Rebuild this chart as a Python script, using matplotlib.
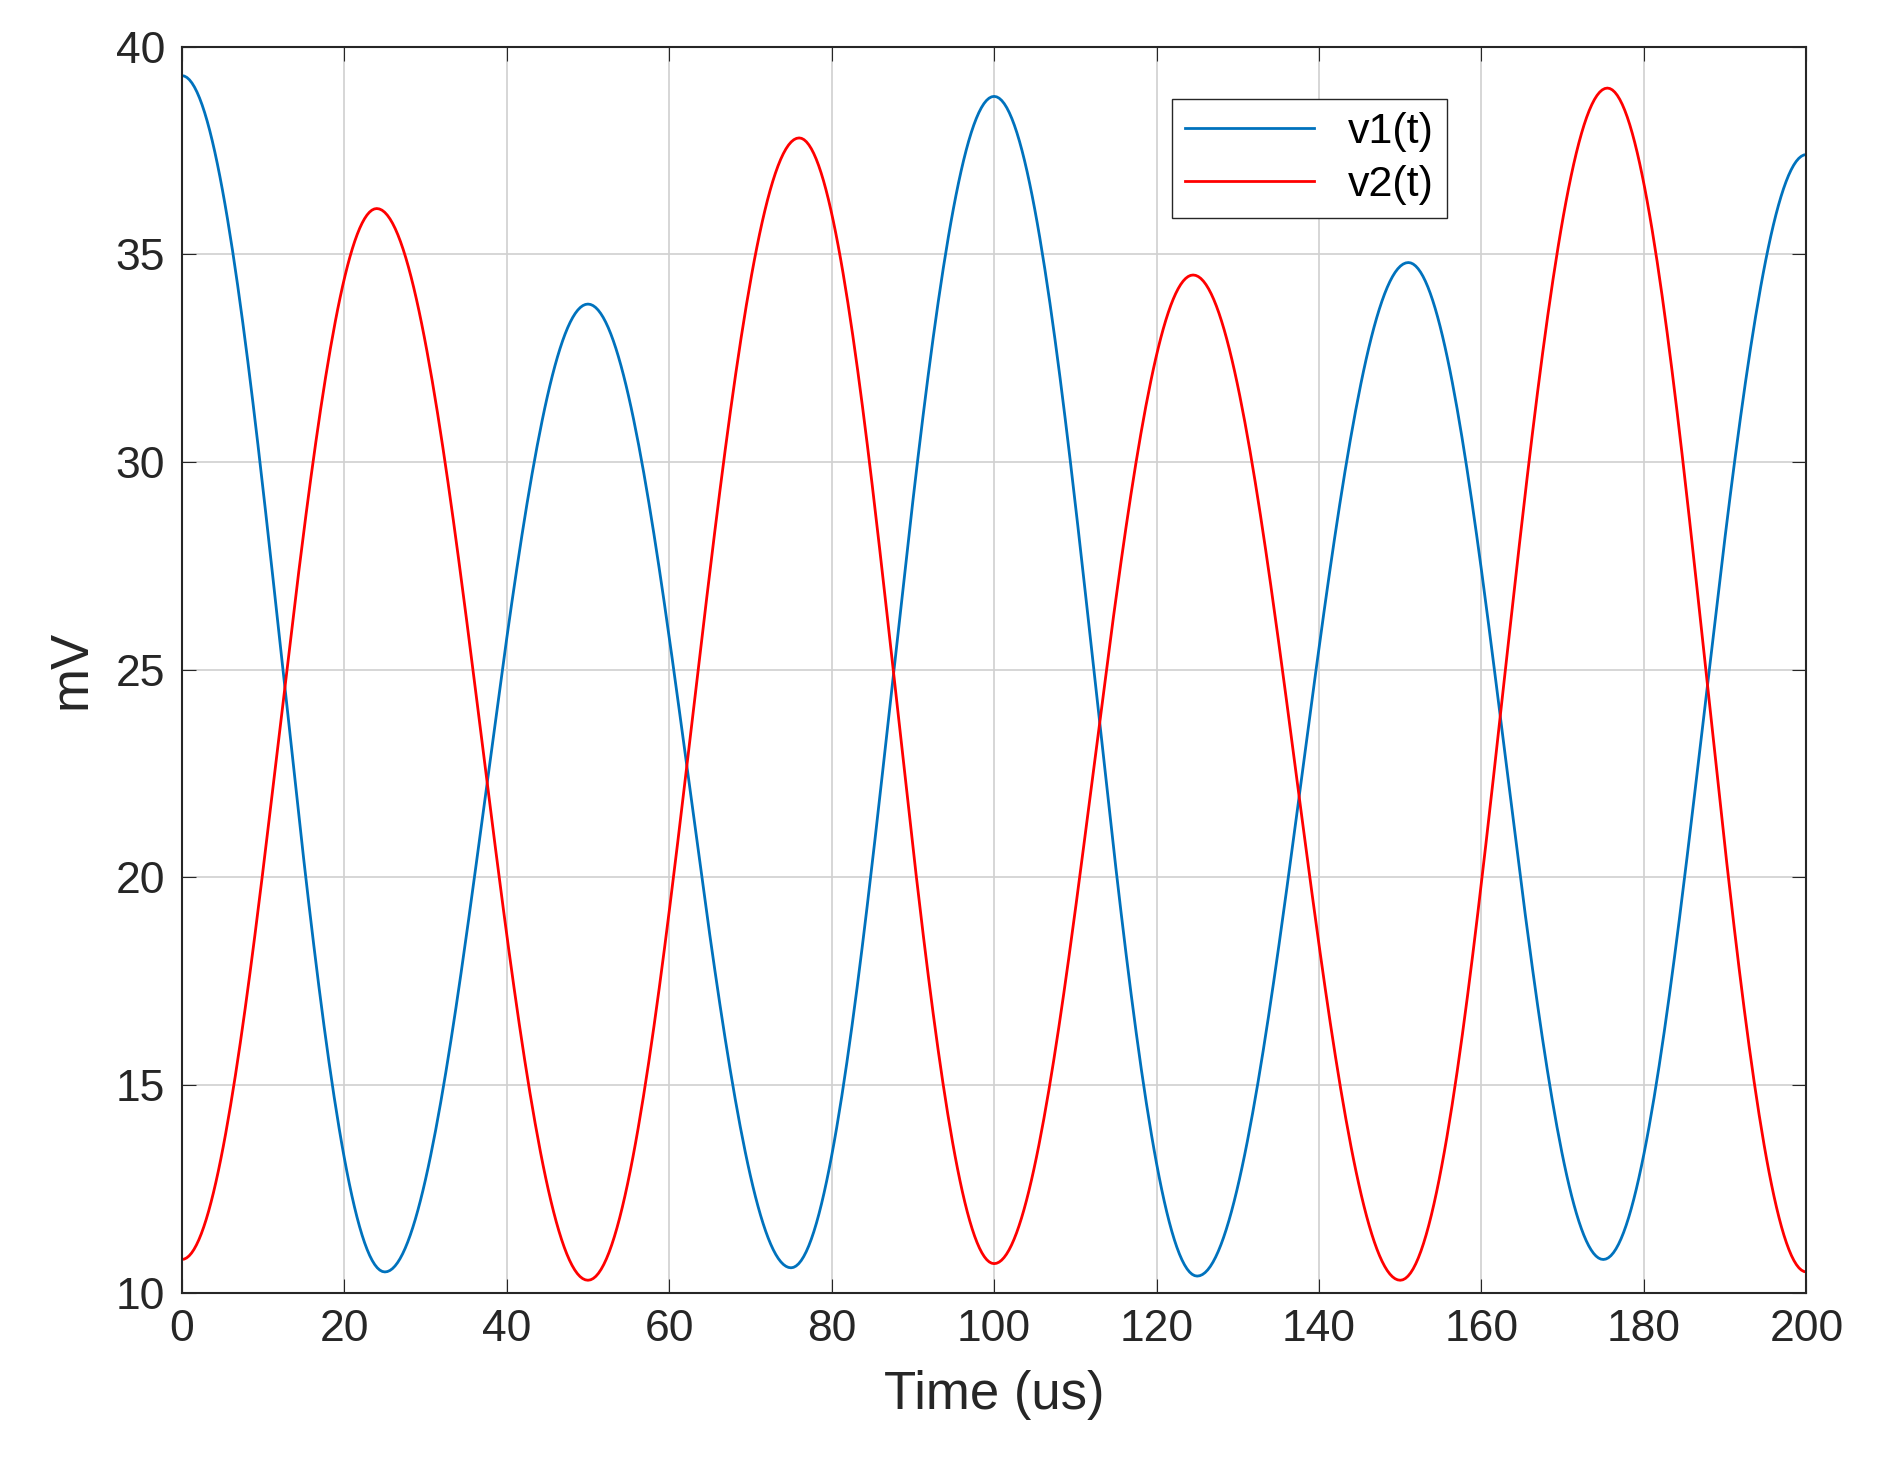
import numpy as np
import matplotlib
matplotlib.use("Agg")
import matplotlib.pyplot as plt

plt.rcParams['font.family'] = ['Liberation Sans', 'DejaVu Sans']

# extrema (time in us, value in mV)
v1_t = [0, 25, 50, 75, 100, 125, 151, 175, 200]
v1_v = [39.3, 10.5, 33.8, 10.6, 38.8, 10.4, 34.8, 10.8, 37.4]
v2_t = [0, 24, 50, 76, 100, 124.5, 150, 175.5, 200]
v2_v = [10.8, 36.1, 10.3, 37.8, 10.7, 34.5, 10.3, 39.0, 10.5]

def smooth(ts, vs, n=80):
    xs, ys = [], []
    for i in range(len(ts) - 1):
        s = np.linspace(0, 1, n, endpoint=False)
        w = (1 - np.cos(np.pi * s)) / 2
        xs.append(ts[i] + (ts[i+1] - ts[i]) * s)
        ys.append(vs[i] + (vs[i+1] - vs[i]) * w)
    xs.append([ts[-1]]); ys.append([vs[-1]])
    return np.concatenate(xs), np.concatenate(ys)

fig = plt.figure(figsize=(18.84, 14.73), dpi=100)
ax = fig.add_axes([0.0965, 0.1224, 0.8700 - 0.0077, 0.846])
x1, y1 = smooth(v1_t, v1_v)
x2, y2 = smooth(v2_t, v2_v)
ax.plot(x1, y1, color='#0072BD', lw=2.0, label='v1(t)')
ax.plot(x2, y2, color='#FF0000', lw=2.0, label='v2(t)')
ax.set_xlim(0, 200); ax.set_ylim(10, 40)
ax.set_xticks(np.arange(0, 201, 20)); ax.set_yticks(np.arange(10, 41, 5))
ax.grid(True, color='#d0d0d0', lw=1.2)
ax.tick_params(direction='in', top=True, right=True, labelsize=32, colors='#262626', length=10, pad=12)
for s in ax.spines.values():
    s.set_color('#262626'); s.set_linewidth(1.5)
ax.set_xlabel('Time (us)', fontsize=38, color='#262626', labelpad=14)
ax.set_ylabel('mV', fontsize=38, color='#262626', labelpad=14)
leg = ax.legend(loc='upper right', bbox_to_anchor=(0.792, 0.975), fontsize=31, fancybox=False,
                framealpha=1, edgecolor='#262626', handlelength=3, borderpad=0.3, labelspacing=0.3)
fig.savefig('out.png', dpi=100)
